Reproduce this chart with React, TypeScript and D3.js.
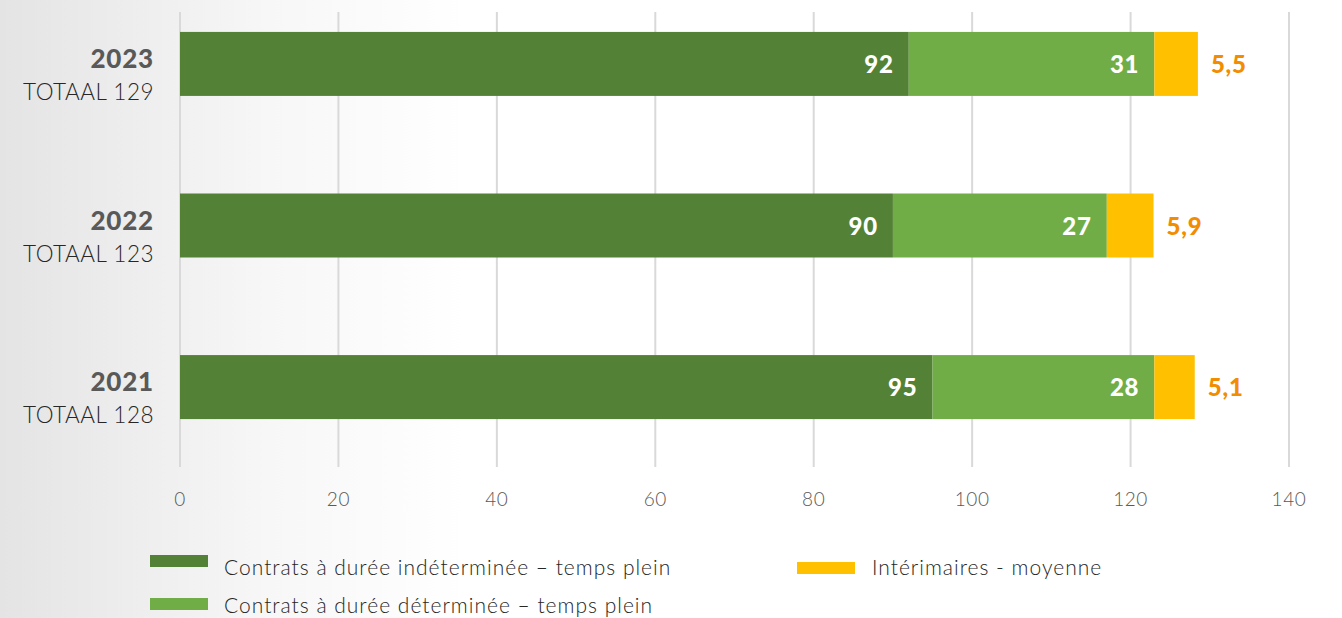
import React from "react";
import * as d3 from "d3";

const years = ["2023", "2022", "2021"];
const totals = [129, 123, 128];
const cdi = [92, 90, 95];
const cdd = [31, 27, 28];
const interim = [5.5, 5.9, 5.1];
const xTicks = [0, 20, 40, 60, 80, 100, 120, 140];
const seriesNames = [
  "Contrats à durée indéterminée – temps plein",
  "Contrats à durée déterminée – temps plein",
  "Intérimaires - moyenne",
];
const colors = ["#538135", "#70ad47", "#ffc000"];

const W = 1342;
const H = 618;
const FONT = "Lato, 'Open Sans', sans-serif";

export default function App() {
  const x = d3.scaleLinear().domain([0, 140]).range([180, 1289]);
  const y = d3
    .scaleBand<string>()
    .domain(years)
    .range([-2, 453])
    .paddingInner(0.604)
    .paddingOuter(0.21);
  const bh = y.bandwidth();
  const fmt = (v: number) => String(v).replace(".", ",");

  const rows = years.map((yr, i) => {
    const segs = [cdi[i], cdd[i], interim[i]];
    let acc = 0;
    return segs.map((v, k) => {
      const s = { k, x0: acc, x1: acc + v, v };
      acc += v;
      return s;
    });
  });

  return (
    <svg width={W} height={H} style={{ position: "absolute", left: 0, top: 0 }}>
      <defs>
        <linearGradient id="bg" x1="0" x2="1" y1="0" y2="0">
          <stop offset="0" stopColor="#e4e4e4" />
          <stop offset="0.2" stopColor="#f7f7f7" />
          <stop offset="0.35" stopColor="#ffffff" />
        </linearGradient>
      </defs>
      <rect x={0} y={0} width={W} height={H} fill="url(#bg)" />
      {xTicks.map((t) => (
        <g key={t}>
          <line x1={x(t)} x2={x(t)} y1={12} y2={467} stroke="#d9d9d9" strokeWidth={2} />
          <text
            x={x(t)}
            y={506}
            textAnchor="middle"
            fontFamily={FONT}
            fontWeight={300}
            fontSize={19}
            letterSpacing={0.6}
            fill="#595959"
          >
            {t}
          </text>
        </g>
      ))}
      {years.map((yr, i) => {
        const y0 = y(yr)!;
        return (
          <g key={yr}>
            <text
              x={154}
              y={y0 + bh / 2 + 4}
              textAnchor="end"
              fontFamily={FONT}
              fontWeight={900}
              fontSize={26}
              letterSpacing={0.8}
              fill="#595959"
            >
              {yr}
            </text>
            <text
              x={154}
              y={y0 + bh / 2 + 36}
              textAnchor="end"
              fontFamily={FONT}
              fontWeight={300}
              fontSize={22.5}
              letterSpacing={0.5}
              fill="#262626"
            >
              TOTAAL {totals[i]}
            </text>
            {rows[i].map((s) => (
              <rect
                key={s.k}
                x={x(s.x0)}
                y={y0}
                width={x(s.x1) - x(s.x0)}
                height={bh}
                fill={colors[s.k]}
              />
            ))}
            {rows[i].slice(0, 2).map((s) => (
              <text
                key={"l" + s.k}
                x={x(s.x1) - 15}
                y={y0 + bh / 2 + 9}
                textAnchor="end"
                fontFamily={FONT}
                fontWeight={900}
                fontSize={24}
                letterSpacing={0.8}
                fill="#ffffff"
              >
                {s.v}
              </text>
            ))}
            <text
              x={x(rows[i][2].x1) + 13}
              y={y0 + bh / 2 + 9}
              fontFamily={FONT}
              fontWeight={900}
              fontSize={24}
              letterSpacing={0.8}
              fill="#f28c00"
            >
              {fmt(interim[i])}
            </text>
          </g>
        );
      })}
      {[
        { k: 0, sx: 150, sy: 555, tx: 224, ty: 575 },
        { k: 1, sx: 150, sy: 598, tx: 224, ty: 613 },
        { k: 2, sx: 797, sy: 562, tx: 872, ty: 575 },
      ].map((l) => (
        <g key={l.k}>
          <rect x={l.sx} y={l.sy} width={58} height={12} fill={colors[l.k]} />
          <text
            x={l.tx}
            y={l.ty}
            fontFamily={FONT}
            fontWeight={300}
            fontSize={21}
            letterSpacing={1}
            fill="#262626"
          >
            {seriesNames[l.k]}
          </text>
        </g>
      ))}
    </svg>
  );
}
